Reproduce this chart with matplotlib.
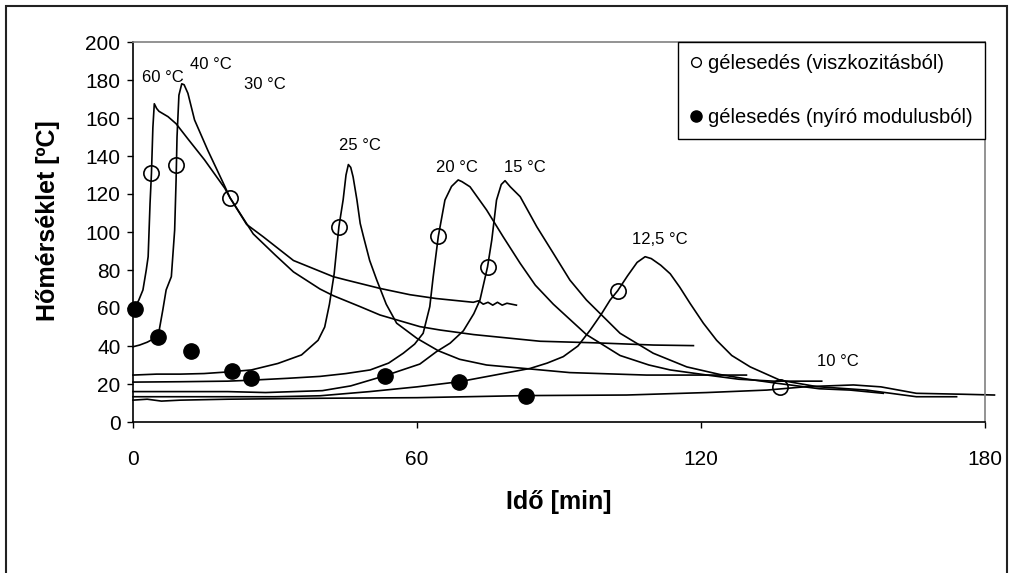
import matplotlib
matplotlib.use('Agg')
import matplotlib.pyplot as plt
from matplotlib.lines import Line2D
from matplotlib.patches import Rectangle

plt.rcParams['font.family'] = ['Liberation Sans', 'DejaVu Sans']

# ─── Data (time in min, temperature in °C) ──────────────────────────────────

t60 = [0.2, 0.5, 1.2, 2.1, 2.8, 3.2, 3.6, 3.9, 4.2, 4.5, 5.0, 5.5, 7.4, 9.1,
       11.6, 15.1, 19.4, 20.5, 24.0, 27.5, 33.9, 42.3, 45.1, 52.2, 58.5, 64.0,
       71.9, 73.0, 74.0, 75.0, 76.0, 77.0, 78.0, 79.0, 81.0]
T60 = [58, 61, 64, 69.5, 80, 87, 115, 131, 155, 167.5, 165, 163.5, 160.7, 157,
       149, 138, 123, 118, 104, 97.5, 85, 76.5, 74.7, 70.3, 67, 65,
       63, 63.8, 62, 63, 61.5, 63, 61.5, 62.5, 61.5]

t40 = [0, 1.4, 3.0, 5.3, 6.3, 7.0, 8.1, 8.8, 9.1, 9.3, 9.7, 10.3, 10.8, 11.6,
       13.0, 15.8, 19.4, 20.5, 25.4, 30.0, 33.9, 39.5, 42.3, 48.0, 52.2, 60.6,
       64.9, 72.0, 86.0, 97.3, 110.0, 118.4]
T40 = [39.6, 40.5, 42, 45, 59, 69.5, 76.5, 101, 127, 150, 172, 178, 177.5, 173,
       159, 143, 124, 118, 99, 88, 79, 70, 66.5, 60.7, 56.3, 50.2,
       48.4, 46, 42.5, 41.7, 40.5, 40.2]

t25 = [0, 5, 10, 15, 20.9, 25.0, 30.6, 35.6, 39.1, 40.5, 41.5, 42.5, 43.5,
       44.4, 45.0, 45.5, 46.0, 46.5, 47.3, 48.0, 48.7, 50.0, 51.5, 53.5, 55.7,
       60.0, 64.5, 69.0, 74.7, 83.5, 92.3, 108.5, 129.6]
T25 = [24.7, 25.2, 25.2, 25.5, 26.5, 27.4, 30.8, 35.3, 43, 50, 62, 78, 102.8,
       117, 130, 135.5, 134, 129, 117, 104.5, 97.5, 85, 74.7, 62, 52,
       44, 37.5, 33, 30, 28, 26, 24.7, 24.7]

t20 = [0, 10, 20, 24.9, 32.7, 39.5, 45.0, 50.1, 54.0, 57.1, 59.5, 61.3, 62.7,
       63.4, 64.5, 65.9, 67.3, 68.7, 69.5, 71.2, 74.7, 78.2, 81.8, 85.0, 88.8,
       95.8, 102.9, 109.0, 113.5, 121.9, 128.0, 135.3, 145.5]
T20 = [21, 21.2, 21.5, 22, 23, 24, 25.5, 27.4, 31, 36.2, 41, 46.7, 60.7,
       76, 97.7, 116.8, 124, 127.4, 126.5, 123.8, 111.6, 97.5, 83.5, 72, 62,
       46, 35, 30, 27.4, 24.5, 22.5, 21.5, 21.5]

t15 = [0, 10, 20, 28, 34, 40, 46, 53.3, 57.0, 60.6, 64.1, 67.0, 69.8, 72.0,
       73.3, 74.9, 75.8, 76.8, 77.8, 78.6, 79.7, 81.8, 85.3, 88.8, 92.3, 95.8,
       102.9, 109.9, 117.0, 124.0, 130.0, 136.0, 145.0, 151.5, 158.5]
T15 = [16, 16, 16, 15.5, 16, 16.5, 19, 24.4, 27.5, 30.5, 37, 41.5, 48, 57,
       64.2, 81.6, 95.8, 116.8, 125, 127, 123.8, 118.6, 102.8, 88.8, 74.7, 64.2,
       46.7, 36.2, 29, 25, 22.5, 20.4, 17.5, 16.8, 15.1]

t125 = [0, 10, 20, 30, 39.5, 50, 60, 68.9, 76, 83.9, 87.5, 90.9, 94, 96.6, 99,
        100.8, 102.4, 104.5, 106.5, 108.2, 109.5, 111.5, 113.5, 115.5, 117.7,
        120.5, 123.3, 126.5, 130.4, 136.7, 144.5, 155, 165.5, 174]
T125 = [13.3, 13.3, 13.3, 13.3, 13.8, 16, 18.5, 21.2, 24.5, 28.2, 31, 34.4, 40,
        48.4, 57, 64.2, 69.1, 77, 84, 87, 86, 82.5, 78, 71, 62.4,
        52, 43, 35, 29, 22, 18.6, 16.8, 13.3, 13.3]

t10 = [0, 3, 6, 10, 20, 40, 60, 83, 104.3, 121.2, 133.9, 142.3, 152.2, 158,
       165.5, 175.4, 182]
T10 = [11.5, 12, 11, 11.5, 12, 12.5, 12.8, 13.9, 14.2, 15.5, 16.8, 18.6, 19.5,
       18.5, 15.1, 14.6, 14.2]

# gel points
visc_t = [3.9, 9.1, 20.5, 43.5, 64.5, 74.9, 102.4, 136.7]
visc_T = [131, 135.4, 118, 102.8, 97.7, 81.6, 69.1, 18.6]
shear_t = [0.5, 5.3, 12.3, 20.9, 24.9, 53.3, 68.9, 83.0]
shear_T = [59.5, 45, 37.5, 27, 23, 24.4, 21.2, 13.9]

# curve labels
lab_text = ['60 °C', '40 °C', '30 °C', '25 °C', '20 °C', '15 °C', '12,5 °C', '10 °C']
lab_t = [6.3, 16.4, 27.9, 48.0, 68.5, 82.8, 111.3, 149.0]
lab_T = [181.2, 187.9, 177.4, 145.3, 134.0, 134.0, 95.8, 31.7]

legend_labels = ['gélesedés (viszkozitásból)', 'gélesedés (nyíró modulusból)']

# ─── Plot ────────────────────────────────────────────────────────────────────

fig = plt.figure(figsize=(10.12, 5.73), dpi=100)
ax = fig.add_axes([133 / 1012, 1 - 422 / 573, (985 - 133) / 1012, (422 - 42) / 573])

curves = [(t60, T60), (t40, T40), (t25, T25), (t20, T20),
          (t15, T15), (t125, T125), (t10, T10)]
for t, T in curves:
    ax.plot(t, T, color='black', linewidth=1.2, clip_on=False)

ax.plot(visc_t, visc_T, linestyle='none', marker='o', markersize=11,
        markerfacecolor='none', markeredgecolor='black', markeredgewidth=1.2)
ax.plot(shear_t, shear_T, linestyle='none', marker='o', markersize=11,
        markerfacecolor='black', markeredgecolor='black', clip_on=False)

for s, x, y in zip(lab_text, lab_t, lab_T):
    ax.text(x, y, s, fontsize=12, ha='center', va='center')

ax.set_xlim(0, 180)
ax.set_ylim(0, 200)
ax.set_xticks([0, 60, 120, 180])
ax.set_yticks(range(0, 201, 20))
ax.tick_params(direction='out', length=4, width=1, labelsize=15)
ax.tick_params(axis='x', pad=16)
ax.tick_params(axis='y', pad=5)

for side in ['top', 'right']:
    ax.spines[side].set_color('#808080')
    ax.spines[side].set_linewidth(1.2)
for side in ['left', 'bottom']:
    ax.spines[side].set_color('black')
    ax.spines[side].set_linewidth(1.2)

ax.set_xlabel('Idő [min]', fontsize=18, fontweight='bold')
ax.set_ylabel('Hőmérséklet [ºC]', fontsize=18, fontweight='bold')
ax.xaxis.set_label_coords(0.5, (422 - 490) / 380)
ax.yaxis.set_label_coords((60 - 133) / 852, (422 - 221) / 380)

handles = [
    Line2D([], [], linestyle='none', marker='o', markersize=7,
           markerfacecolor='none', markeredgecolor='black'),
    Line2D([], [], linestyle='none', marker='o', markersize=8,
           markerfacecolor='black', markeredgecolor='black'),
]
leg = ax.legend(handles, legend_labels, loc='upper right',
                bbox_to_anchor=(1.0, 1.0), fontsize=14.5, frameon=True,
                fancybox=False, framealpha=1, edgecolor='black',
                handlelength=0.6, handletextpad=0.3,
                labelspacing=1.75, borderpad=0.6, borderaxespad=0)
leg.get_frame().set_linewidth(1.0)
leg.set_zorder(5)

# outer frame around the figure
fig.patches.append(Rectangle((6 / 1012, -0.05), (1007 - 6) / 1012, 1.05 - 6 / 573,
                             transform=fig.transFigure, fill=False,
                             edgecolor='#222222', linewidth=1.5))

plt.savefig('out.png', dpi=100)
